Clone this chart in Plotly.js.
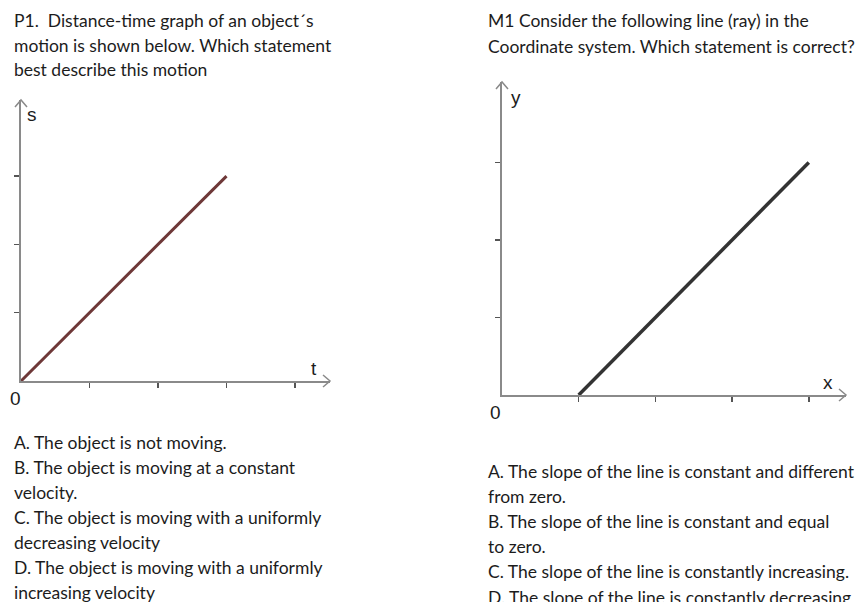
<!DOCTYPE html>
<html>
<head>
<meta charset="utf-8">
<script src="https://cdn.plot.ly/plotly-3.0.1.min.js"></script>
<style>
  html, body { margin: 0; padding: 0; background: #fff; }
  #plot { width: 859px; height: 602px; }
</style>
</head>
<body>
<div id="plot"></div>
<script>
// P1: distance-time graph
const sTime = [0, 3]
const sDist = [0, 3]
const p1TicksX = [1, 2, 3, 4]
const p1TicksY = [1, 2, 3]

// M1: the ray in the coordinate system
const rayX = [1, 4]
const rayY = [0, 3]
const m1TicksX = [1, 2, 3, 4]
const m1TicksY = [1, 2, 3]

const p1Title = [
  'P1.  Distance-time graph of an object´s',
  'motion is shown below. Which statement',
  'best describe this motion'
]
const p1Options = [
  'A. The object is not moving.',
  'B. The object is moving at a constant',
  'velocity.',
  'C. The object is moving with a uniformly',
  'decreasing velocity',
  'D. The object is moving with a uniformly',
  'increasing velocity'
]
const m1Title = [
  'M1 Consider the following line (ray) in the',
  'Coordinate system. Which statement is correct?'
]
const m1Options = [
  'A. The slope of the line is constant and different',
  'from zero.',
  'B. The slope of the line is constant and equal',
  'to zero.',
  'C. The slope of the line is constantly increasing.',
  'D. The slope of the line is constantly decreasing'
]

const W = 859, H = 602
const px = x => x / W
const py = y => 1 - y / H

const axisGray = '#8a8a8a'
const textColor = '#1c1c1c'

const p1Dom = {x: [px(21), px(330)], y: [py(381), py(100)]}
const m1Dom = {x: [px(502), px(846)], y: [py(395), py(82)]}
const p1RangeX = [0, (330 - 21) / 68.5]
const p1RangeY = [0, (381 - 100) / 68.3]
const m1RangeX = [0, (846 - 502) / 76.7]
const m1RangeY = [0, (395 - 82) / 77.5]

function axisStyle(extra) {
  return Object.assign({
    showline: true, linecolor: axisGray, linewidth: 2,
    ticks: 'outside', ticklen: 5, tickwidth: 1.5, tickcolor: '#555',
    showticklabels: false, showgrid: false, zeroline: false,
    fixedrange: true
  }, extra)
}

const trace1 = {
  x: sTime, y: sDist, xaxis: 'x', yaxis: 'y',
  mode: 'lines', type: 'scatter',
  line: {color: '#6e3838', width: 3},
  hoverinfo: 'skip'
}
const trace2 = {
  x: rayX, y: rayY, xaxis: 'x2', yaxis: 'y2',
  mode: 'lines', type: 'scatter',
  line: {color: '#333333', width: 3.5},
  hoverinfo: 'skip'
}

function textLines(lines, x0, yStart, step) {
  return lines.map(function (t, i) {
    return {
      text: t, showarrow: false, xref: 'paper', yref: 'paper',
      x: px(x0), y: py(yStart + i * step),
      xanchor: 'left', yanchor: 'middle', align: 'left',
      font: {family: 'Lato, sans-serif', size: 17.5, color: textColor}
    }
  })
}

function label(t, x, y) {
  return {
    text: t, showarrow: false, xref: 'paper', yref: 'paper',
    x: px(x), y: py(y), xanchor: 'center', yanchor: 'middle',
    font: {family: 'Liberation Sans, Arial, sans-serif', size: 19, color: textColor}
  }
}

// open chevron arrow tips at the axis ends (paper refs so they are not clipped)
function chevron(x, y, dir) {
  const path = dir === 'right' ? 'M -7 6 L 0 0 L -7 -6' : 'M -6 -7 L 0 0 L 6 -7'
  return {
    type: 'path', xref: 'paper', yref: 'paper',
    xsizemode: 'pixel', ysizemode: 'pixel', xanchor: x, yanchor: y,
    path: path, line: {color: axisGray, width: 1.5}
  }
}

const annotations = []
  .concat(textLines(p1Title, 12, 21, 24.5))
  .concat(textLines(p1Options, 12, 442, 25))
  .concat(textLines(m1Title, 486, 21, 25.5))
  .concat(textLines(m1Options, 486, 471, 25.2))
  .concat([
    label('s', 32, 115), label('t', 314, 368), label('0', 15, 398),
    label('y', 516, 97), label('x', 828, 382), label('0', 495, 412)
  ])

const layout = {
  width: W, height: H,
  margin: {l: 0, r: 0, t: 0, b: 0},
  paper_bgcolor: '#fff', plot_bgcolor: 'rgba(0,0,0,0)',
  showlegend: false, hovermode: false,
  xaxis: axisStyle({domain: p1Dom.x, range: p1RangeX, tickvals: p1TicksX, anchor: 'y'}),
  yaxis: axisStyle({domain: p1Dom.y, range: p1RangeY, tickvals: p1TicksY, anchor: 'x'}),
  xaxis2: axisStyle({domain: m1Dom.x, range: m1RangeX, tickvals: m1TicksX, anchor: 'y2'}),
  yaxis2: axisStyle({domain: m1Dom.y, range: m1RangeY, tickvals: m1TicksY, anchor: 'x2'}),
  shapes: [
    chevron(p1Dom.x[1], p1Dom.y[0], 'right'),
    chevron(p1Dom.x[0], p1Dom.y[1], 'up'),
    chevron(m1Dom.x[1], m1Dom.y[0], 'right'),
    chevron(m1Dom.x[0], m1Dom.y[1], 'up')
  ],
  annotations: annotations
}

Plotly.newPlot('plot', [trace1, trace2], layout, {displayModeBar: false, staticPlot: true})
</script>
</body>
</html>
